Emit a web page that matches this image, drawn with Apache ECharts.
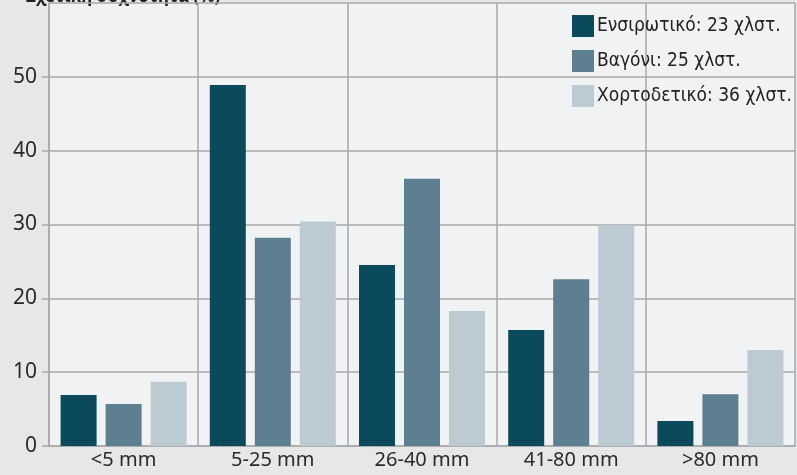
<!DOCTYPE html>
<html>
<head>
<meta charset="utf-8">
<script src="https://cdn.jsdelivr.net/npm/echarts@6/dist/echarts.min.js"></script>
<style>
html,body{margin:0;padding:0;background:#e6e7e8;}
#c{width:797px;height:475px;}
</style>
</head>
<body>
<div id="c"></div>
<script>
var categories = ['<5 mm', '5-25 mm', '26-40 mm', '41-80 mm', '>80 mm'];
var seriesNames = ['Ενσιρωτικό: 23 χλστ.', 'Βαγόνι: 25 χλστ.', 'Χορτοδετικό: 36 χλστ.'];
var silage = [6.9, 48.9, 24.5, 15.7, 3.4];
var wagon = [5.7, 28.2, 36.2, 22.6, 7.0];
var baler = [8.7, 30.4, 18.3, 29.9, 13.0];
var yTitle = 'Σχετική συχνότητα (%)';

var colors = ['#0a4a5a', '#5d7f8f', '#bccbd2'];
var chart = echarts.init(document.getElementById('c'), null, {renderer: 'canvas'});
function mk(name, data, i) {
  return {
    name: name, type: 'bar', data: data, barWidth: 36, barGap: '25%',
    itemStyle: {color: colors[i]}, emphasis: {disabled: true}
  };
}
chart.setOption({
  backgroundColor: '#e6e7e8',
  animation: false,
  color: colors,
  graphic: [{
    type: 'text', left: 26, top: -11,
    style: {text: yTitle, font: 'bold 17px "Noto Sans"', fill: '#222'}
  }],
  legend: {
    orient: 'vertical', left: 572, top: 15, padding: 0,
    itemWidth: 22, itemHeight: 22, itemGap: 13,
    icon: 'rect',
    textStyle: {fontStyle: 'normal', fontWeight: 'condensed', fontFamily: '"DejaVu Sans"', fontSize: 19, color: '#222', padding: [0,0,0,-2]},
    data: seriesNames
  },
  grid: {left: 49, right: 2, top: 3, bottom: 29, show: true, backgroundColor: '#f1f2f4', borderWidth: 0},
  xAxis: {
    type: 'category', data: categories,
    axisLine: {show: true, lineStyle: {color: '#a9a9a9', width: 1.5}},
    axisTick: {show: false},
    splitLine: {show: true, lineStyle: {color: '#a9a9a9', width: 1.5}},
    axisLabel: {fontFamily: '"Noto Sans"', fontSize: 20, color: '#2a2a2a', margin: 4}
  },
  yAxis: {
    type: 'value', min: 0, max: 60, interval: 10,
    axisLine: {show: true, lineStyle: {color: '#a9a9a9', width: 1.5}},
    axisTick: {show: true, length: 7, lineStyle: {color: '#a9a9a9', width: 1.5}},
    splitLine: {show: true, lineStyle: {color: '#a9a9a9', width: 1.5}},
    axisLabel: {fontFamily: '"Noto Sans"', fontSize: 21, color: '#2a2a2a', margin: 12, showMaxLabel: false}
  },
  series: [mk(seriesNames[0], silage, 0), mk(seriesNames[1], wagon, 1), mk(seriesNames[2], baler, 2)]
});
</script>
</body>
</html>
